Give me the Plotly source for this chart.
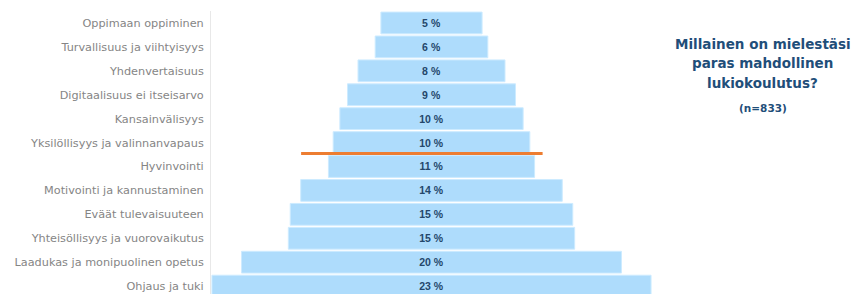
import plotly.graph_objects as go

categories = [
    "Oppimaan oppiminen",
    "Turvallisuus ja viihtyisyys",
    "Yhdenvertaisuus",
    "Digitaalisuus ei itseisarvo",
    "Kansainvälisyys",
    "Yksilöllisyys ja valinnanvapaus",
    "Hyvinvointi",
    "Motivointi ja kannustaminen",
    "Eväät tulevaisuuteen",
    "Yhteisöllisyys ja vuorovaikutus",
    "Laadukas ja monipuolinen opetus",
    "Ohjaus ja tuki",
]
values = [5.3, 5.9, 7.7, 8.8, 9.6, 10.3, 10.8, 13.7, 14.8, 15.0, 19.9, 23.0]
value_labels = ["5 %", "6 %", "8 %", "9 %", "10 %", "10 %", "11 %", "14 %", "15 %", "15 %", "20 %", "23 %"]

title_lines = ["Millainen on mielestäsi", "paras mahdollinen", "lukiokoulutus?"]
n_text = "(n=833)"

# orange separator line (data coordinates)
sep_y = 5.46
sep_x0, sep_x1 = -6.83, 5.82

bases = [-v / 2 for v in values]

fig = go.Figure(
    go.Bar(
        y=categories,
        x=values,
        base=bases,
        orientation="h",
        marker=dict(color="#AEDCFC", line=dict(color="#CDEBFF", width=1)),
        text=value_labels,
        textposition="inside",
        insidetextanchor="middle",
        textangle=0,
        textfont=dict(family="Liberation Sans", size=10.5, color="#24476B", weight="bold"),
        hoverinfo="skip",
    )
)

fig.add_shape(
    type="line", xref="x", yref="y",
    x0=sep_x0, x1=sep_x1, y0=sep_y, y1=sep_y,
    line=dict(color="#ED7D31", width=3),
)

title_y = [0.883, 0.8145, 0.7456]
for line, yy in zip(title_lines, title_y):
    fig.add_annotation(
        xref="paper", yref="paper", x=1.2517, y=yy, xanchor="center", yanchor="middle",
        text=line, showarrow=False,
        font=dict(family="DejaVu Sans", size=13.5, color="#1F4E79", weight="bold"),
    )
fig.add_annotation(
    xref="paper", yref="paper", x=1.2517, y=0.659, xanchor="center", yanchor="middle",
    text=n_text, showarrow=False,
    font=dict(family="DejaVu Sans", size=10.5, color="#1F4E79", weight="bold"),
)

fig.update_layout(
    width=853, height=286,
    margin=dict(l=203, r=209, t=3, b=0, autoexpand=False),
    paper_bgcolor="white", plot_bgcolor="white",
    bargap=0.09,
    showlegend=False,
    uniformtext=dict(minsize=8, mode="show"),
)
fig.update_xaxes(range=[-11.55, 11.55], visible=False, fixedrange=True)
fig.update_yaxes(
    autorange=False, range=[11.33, -0.5],
    categoryorder="array", categoryarray=categories,
    showline=True, linecolor="#E8E8E8", linewidth=1,
    showgrid=False, zeroline=False, ticks="",
    ticklabelstandoff=4, automargin=False,
    tickfont=dict(family="DejaVu Sans", size=11.25, color="#858585"),
)

fig.write_html("out.html")
